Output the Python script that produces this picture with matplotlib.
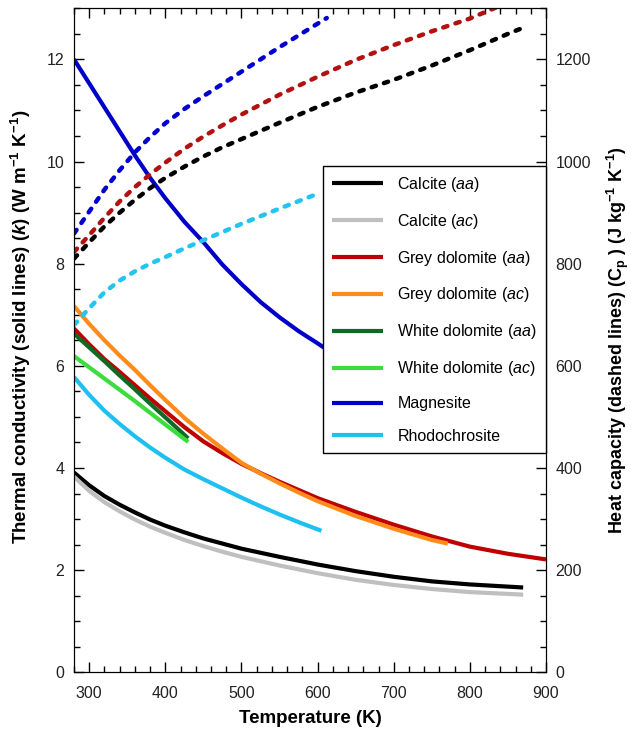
import matplotlib
matplotlib.use('Agg')
import matplotlib.pyplot as plt
from matplotlib.ticker import MultipleLocator

plt.rcParams['font.family'] = ['Liberation Sans', 'DejaVu Sans']
plt.rcParams['mathtext.fontset'] = 'custom'
plt.rcParams['mathtext.rm'] = 'Liberation Sans'
plt.rcParams['mathtext.it'] = 'Liberation Sans:italic'
plt.rcParams['mathtext.bf'] = 'Liberation Sans:bold'
plt.rcParams['mathtext.bfit'] = 'Liberation Sans:italic:bold'

# thermal conductivity k (W m-1 K-1), solid lines
t_calcite_aa = [280, 300, 320, 340, 360, 380, 400, 425, 450, 475, 500, 550, 600, 650, 700, 750, 800, 870]
k_calcite_aa = [3.91, 3.66, 3.45, 3.28, 3.13, 2.99, 2.87, 2.74, 2.62, 2.52, 2.42, 2.26, 2.11, 1.98,
                1.87, 1.78, 1.72, 1.66]

t_calcite_ac = [280, 300, 320, 340, 360, 380, 400, 425, 450, 475, 500, 550, 600, 650, 700, 750, 800, 870]
k_calcite_ac = [3.83, 3.55, 3.33, 3.15, 2.99, 2.85, 2.73, 2.59, 2.47, 2.36, 2.26, 2.09, 1.94, 1.81,
                1.71, 1.63, 1.57, 1.52]

t_grey_aa = [280, 300, 320, 340, 360, 380, 400, 425, 450, 475, 500, 525, 550, 575, 600, 650, 700,
             750, 800, 850, 900]
k_grey_aa = [6.73, 6.42, 6.13, 5.88, 5.62, 5.36, 5.11, 4.80, 4.52, 4.29, 4.08, 3.90, 3.73, 3.57,
             3.41, 3.14, 2.89, 2.66, 2.46, 2.32, 2.21]

t_grey_ac = [280, 300, 320, 340, 360, 380, 400, 425, 450, 475, 500, 525, 550, 575, 600, 650, 700,
             750, 771]
k_grey_ac = [7.17, 6.82, 6.50, 6.20, 5.92, 5.62, 5.33, 4.98, 4.67, 4.38, 4.10, 3.89, 3.70, 3.52,
             3.35, 3.06, 2.81, 2.59, 2.52]

t_white_aa = [280, 300, 320, 340, 360, 380, 400, 430]
k_white_aa = [6.63, 6.36, 6.09, 5.81, 5.54, 5.26, 4.99, 4.58]

t_white_ac = [280, 300, 320, 340, 360, 380, 400, 430]
k_white_ac = [6.19, 5.97, 5.75, 5.53, 5.31, 5.08, 4.85, 4.51]

t_magnesite = [280, 300, 320, 340, 360, 380, 400, 425, 450, 475, 500, 525, 550, 575, 600, 612]
k_magnesite = [12.0, 11.53, 11.06, 10.59, 10.12, 9.68, 9.28, 8.82, 8.42, 7.98, 7.60, 7.25, 6.95,
               6.68, 6.44, 6.32]

t_rhodo = [280, 300, 320, 340, 360, 380, 400, 425, 450, 475, 500, 525, 550, 575, 605]
k_rhodo = [5.78, 5.43, 5.12, 4.86, 4.62, 4.40, 4.20, 3.97, 3.78, 3.60, 3.42, 3.25, 3.09, 2.94, 2.77]

# heat capacity Cp (J kg-1 K-1), dashed lines
t_cp_magnesite = [280, 300, 320, 340, 360, 380, 400, 425, 450, 475, 500, 550, 600, 612]
cp_magnesite = [859, 902, 945, 983, 1018, 1048, 1075, 1103, 1128, 1152, 1176, 1224, 1270, 1281]

t_cp_grey = [280, 300, 320, 340, 360, 380, 400, 425, 450, 475, 500, 550, 600, 650, 700, 750, 800, 835]
cp_grey = [823, 856, 890, 922, 950, 975, 998, 1025, 1049, 1071, 1092, 1131, 1166, 1199, 1228, 1255,
           1280, 1302]

t_cp_calcite = [280, 300, 320, 340, 360, 380, 400, 425, 450, 475, 500, 550, 600, 650, 700, 750, 800,
                850, 870]
cp_calcite = [810, 842, 873, 900, 925, 948, 968, 990, 1010, 1028, 1044, 1076, 1107, 1135, 1160, 1188,
              1218, 1250, 1262]

t_cp_rhodo = [280, 300, 320, 340, 360, 380, 400, 425, 450, 475, 500, 550, 595]
cp_rhodo = [680, 713, 744, 767, 785, 800, 813, 830, 846, 862, 878, 908, 934]

labels = ['Calcite ($\\mathit{aa}$)', 'Calcite ($\\mathit{ac}$)',
          'Grey dolomite ($\\mathit{aa}$)', 'Grey dolomite ($\\mathit{ac}$)',
          'White dolomite ($\\mathit{aa}$)', 'White dolomite ($\\mathit{ac}$)',
          'Magnesite', 'Rhodochrosite']
colors = ['#000000', '#bfbfbf', '#c00000', '#ff8c1a',
          '#0e6b26', '#3ddc3d', '#0000c8', '#1ec0f0']


def style_ticks(ax):
    ax.tick_params(which='both', direction='in', labelsize=11.5, labelcolor='#222222')
    ax.tick_params(which='major', length=7, width=1)
    ax.tick_params(which='minor', length=4, width=1)


def main():
    fig = plt.figure(figsize=(6.31, 7.29), dpi=100)
    ax = fig.add_axes([0.1173, 0.0778, 0.748, 0.9108])
    ax2 = ax.twinx()

    series = [(t_calcite_aa, k_calcite_aa), (t_calcite_ac, k_calcite_ac),
              (t_grey_aa, k_grey_aa), (t_grey_ac, k_grey_ac),
              (t_white_aa, k_white_aa), (t_white_ac, k_white_ac),
              (t_magnesite, k_magnesite), (t_rhodo, k_rhodo)]
    handles = []
    for (t, k), c, lab in zip(series, colors, labels):
        h, = ax.plot(t, k, color=c, lw=3, solid_capstyle='butt',
                     solid_joinstyle='round', label=lab)
        handles.append(h)

    dashed = [(t_cp_magnesite, cp_magnesite, '#0000d0'),
              (t_cp_grey, cp_grey, '#b31010'),
              (t_cp_calcite, cp_calcite, '#000000'),
              (t_cp_rhodo, cp_rhodo, '#22c4f0')]
    for t, cp, c in dashed:
        ax2.plot(t, cp, color=c, lw=3.2, dashes=(1.0, 1.9), dash_capstyle='round')

    ax.set_xlim(280, 900)
    ax.set_ylim(0, 13)
    ax2.set_ylim(0, 1300)

    ax.xaxis.set_major_locator(MultipleLocator(100))
    ax.xaxis.set_minor_locator(MultipleLocator(20))
    ax.yaxis.set_major_locator(MultipleLocator(2))
    ax.yaxis.set_minor_locator(MultipleLocator(0.5))
    ax2.yaxis.set_major_locator(MultipleLocator(200))
    ax2.yaxis.set_minor_locator(MultipleLocator(50))

    style_ticks(ax)
    style_ticks(ax2)
    ax.tick_params(which='both', top=True)
    ax.tick_params(axis='x', pad=10)
    ax.tick_params(axis='y', pad=7)
    ax2.tick_params(axis='y', pad=7)

    ax.set_xlabel('Temperature (K)', fontsize=13.5, fontweight='bold', labelpad=6)
    ax.set_ylabel('Thermal conductivity (solid lines) ($\\mathbfit{k}$) '
                  '(W m$^{\\mathbf{-1}}$ K$^{\\mathbf{-1}}$)',
                  fontsize=13.5, fontweight='bold')
    ax.yaxis.set_label_coords(-0.087, 0.52)
    ax2.set_ylabel('Heat capacity (dashed lines) (C$_{\\mathbf{p}}$ ) '
                   '(J kg$^{\\mathbf{-1}}$ K$^{\\mathbf{-1}}$)',
                   fontsize=13, fontweight='bold', rotation=90)
    ax2.yaxis.set_label_coords(1.125, 0.5)

    leg = ax2.legend(handles=handles, loc='upper right', bbox_to_anchor=(1.0, 0.7625),
                     borderaxespad=0, fontsize=11.5, frameon=True, fancybox=False,
                     edgecolor='black', framealpha=1, handlelength=3.2,
                     handletextpad=0.9, labelspacing=1.12, borderpad=0.55)
    leg.get_frame().set_linewidth(1.0)

    fig.savefig('out.png', dpi=100)


if __name__ == '__main__':
    main()
